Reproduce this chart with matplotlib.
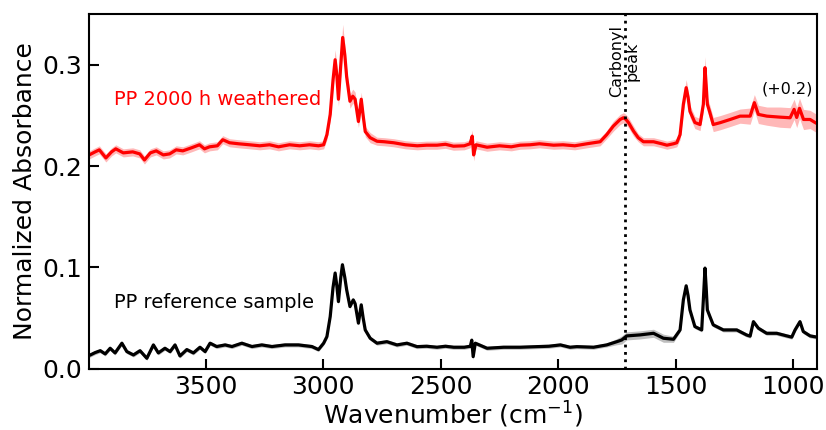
import numpy as np
import matplotlib.pyplot as plt

# weathered PP spectrum (plotted with +0.2 offset)
weathered_wn = [3995, 3970, 3952, 3924, 3900, 3882, 3850, 3810, 3780, 3760,
                3735, 3710, 3680, 3653, 3625, 3597, 3560, 3526, 3505, 3483,
                3450, 3427, 3398, 3360, 3313, 3270, 3228, 3190, 3143, 3100,
                3058, 3020, 2998, 2984, 2970, 2958, 2949, 2942, 2935, 2925,
                2917, 2908, 2900, 2886, 2874, 2864, 2850, 2838, 2830, 2821,
                2800, 2771, 2740, 2700, 2650, 2600, 2560, 2516, 2480, 2446,
                2400, 2375, 2366, 2360, 2350, 2303, 2250, 2200, 2162, 2120,
                2080, 2020, 1980, 1930, 1878, 1822, 1794, 1766, 1737, 1723,
                1712, 1701, 1680, 1660, 1638, 1595, 1560, 1538, 1510, 1496,
                1482, 1468, 1456, 1448, 1440, 1419, 1397, 1383, 1376, 1371,
                1366, 1355, 1341, 1312, 1269, 1227, 1184, 1166, 1149, 1113,
                1057, 1014, 997, 986, 974, 957, 929, 908, 900]
weathered_abs = [.011, .014, .016, .008, .014, .017, .013, .014, .012, .006,
                 .013, .015, .011, .012, .016, .015, .018, .021, .017, .019,
                 .020, .026, .023, .022, .021, .020, .021, .019, .021, .020,
                 .021, .020, .021, .031, .051, .085, .105, .090, .066, .100,
                 .127, .110, .088, .064, .069, .066, .044, .066, .050, .034,
                 .028, .0245, .024, .023, .021, .020, .0206, .0206, .0215, .0196,
                 .020, .022, .0295, .011, .021, .0186, .020, .019, .0206, .021,
                 .022, .0206, .021, .020, .022, .024, .031, .0394, .046, .0477,
                 .046, .0428, .0345, .028, .024, .024, .022, .0206, .022, .023,
                 .031, .061, .0774, .068, .054, .043, .041, .061, .0972, .080,
                 .061, .0527, .041, .0428, .046, .0493, .0493, .0626, .051, .0493,
                 .0483, .0477, .056, .048, .057, .046, .046, .043, .042]
weathered_sd = [.004, .004, .004, .004, .004, .004, .004, .004, .004, .004,
                .004, .004, .004, .004, .004, .004, .004, .004, .004, .004,
                .004, .004, .004, .004, .004, .004, .004, .004, .004, .004,
                .004, .004, .004, .005, .006, .008, .010, .009, .007, .009,
                .013, .010, .008, .007, .007, .007, .006, .007, .006, .005,
                .005, .004, .004, .004, .004, .004, .004, .004, .004, .004,
                .004, .004, .006, .006, .004, .004, .004, .004, .004, .004,
                .004, .004, .004, .004, .004, .004, .004, .005, .005, .005,
                .005, .005, .005, .004, .004, .004, .004, .004, .004, .004,
                .005, .007, .008, .007, .006, .006, .006, .007, .011, .008,
                .007, .007, .007, .007, .007, .007, .008, .008, .009, .009,
                .010, .010, .010, .010, .010, .010, .009, .009, .009]

# reference PP spectrum
ref_wn = [3995, 3990, 3970, 3948, 3927, 3906, 3885, 3856, 3835, 3807,
          3779, 3750, 3722, 3701, 3673, 3651, 3630, 3609, 3580, 3552,
          3524, 3502, 3481, 3453, 3417, 3388, 3346, 3303, 3261, 3218,
          3162, 3105, 3048, 3020, 2998, 2984, 2970, 2958, 2949, 2942,
          2935, 2925, 2918, 2908, 2900, 2886, 2872, 2864, 2850, 2838,
          2830, 2821, 2800, 2771, 2729, 2686, 2644, 2601, 2560, 2516,
          2480, 2445, 2400, 2374, 2368, 2362, 2353, 2303, 2233, 2162,
          2091, 2040, 1991, 1950, 1921, 1850, 1794, 1751, 1730, 1709,
          1652, 1595, 1553, 1510, 1482, 1468, 1456, 1448, 1440, 1419,
          1390, 1383, 1376, 1371, 1366, 1355, 1341, 1298, 1241, 1199,
          1184, 1170, 1149, 1114, 1071, 1028, 1007, 993, 972, 958,
          929, 900]
ref_abs = [.013, .0134, .0157, .0176, .0144, .020, .0154, .025, .0167, .0134,
           .0176, .0101, .0233, .0154, .020, .0167, .0233, .0124, .0187, .0154,
           .021, .0167, .025, .0217, .0233, .0217, .025, .0217, .0233, .0217,
           .0233, .0233, .0217, .0187, .025, .0315, .0513, .080, .0943, .082,
           .0661, .090, .1025, .090, .0777, .0612, .0678, .064, .0448, .0629,
           .050, .0381, .0299, .025, .0265, .0233, .025, .0216, .022, .021,
           .022, .021, .021, .022, .028, .0117, .025, .020, .021, .021,
           .0216, .022, .0233, .021, .0216, .021, .0233, .0265, .0282, .0322,
           .0332, .0348, .0299, .0289, .0381, .0678, .0817, .072, .0579, .0414,
           .0381, .0678, .0992, .080, .0579, .0513, .0431, .0381, .0381, .0331,
           .032, .0463, .0398, .0348, .0348, .0322, .031, .0381, .0463, .0365,
           .0322, .031]
ref_sd = [.002, .002, .002, .002, .002, .002, .002, .002, .002, .002,
          .002, .002, .002, .002, .002, .002, .002, .002, .002, .002,
          .002, .002, .002, .002, .002, .002, .002, .002, .002, .002,
          .002, .002, .002, .002, .002, .002, .002, .003, .003, .003,
          .003, .003, .003, .003, .003, .002, .002, .002, .002, .002,
          .002, .002, .002, .002, .002, .002, .002, .002, .002, .002,
          .002, .002, .002, .002, .003, .003, .002, .002, .002, .002,
          .002, .002, .002, .002, .002, .002, .002, .003, .004, .004,
          .004, .004, .004, .003, .002, .002, .002, .002, .002, .002,
          .002, .002, .002, .002, .002, .002, .002, .002, .002, .002,
          .002, .002, .002, .002, .002, .002, .002, .002, .002, .002,
          .002, .002]

offset = 0.2
carbonyl_wn = 1718

w_wn = np.array(weathered_wn)
w_abs = np.array(weathered_abs) + offset
w_sd = np.array(weathered_sd)
r_wn = np.array(ref_wn)
r_abs = np.array(ref_abs)
r_sd = np.array(ref_sd)

fig = plt.figure(figsize=(8.26, 4.3), dpi=100)
ax = fig.add_axes([0.108, 0.143, 0.881, 0.824])

ax.fill_between(w_wn, w_abs - w_sd, w_abs + w_sd, color='red', alpha=0.28, lw=0)
ax.plot(w_wn, w_abs, color='red', lw=2.3)
ax.fill_between(r_wn, r_abs - r_sd, r_abs + r_sd, color='grey', alpha=0.5, lw=0)
ax.plot(r_wn, r_abs, color='black', lw=2.3)

ax.axvline(carbonyl_wn, color='black', ls=':', lw=2)
ax.text(carbonyl_wn, 0.268, 'Carbonyl\npeak', rotation=90, ha='center', va='bottom',
        fontsize=11.5, linespacing=1.0)
ax.text(1025, 0.276, '(+0.2)', ha='center', va='center', fontsize=11.5)
ax.text(3891, 0.266, 'PP 2000 h weathered', color='red', ha='left', va='center', fontsize=14)
ax.text(3891, 0.065, 'PP reference sample', color='black', ha='left', va='center', fontsize=14)

ax.set_xlim(3995, 900)
ax.set_ylim(0, 0.35)
ax.set_xticks([3500, 3000, 2500, 2000, 1500, 1000])
ax.set_yticks([0.0, 0.1, 0.2, 0.3])
ax.set_xticklabels(['3500', '3000', '2500', '2000', '1500', '1000'], fontsize=18)
ax.set_yticklabels(['0.0', '0.1', '0.2', '0.3'], fontsize=18)
ax.tick_params(direction='in', length=7, width=1.5, pad=5)
for s in ax.spines.values():
    s.set_linewidth(1.5)

ax.set_xlabel('Wavenumber (cm$^{-1}$)', fontsize=18, labelpad=0)
ax.set_ylabel('Normalized Absorbance', fontsize=18, labelpad=4)

plt.savefig('out.png', dpi=100)
